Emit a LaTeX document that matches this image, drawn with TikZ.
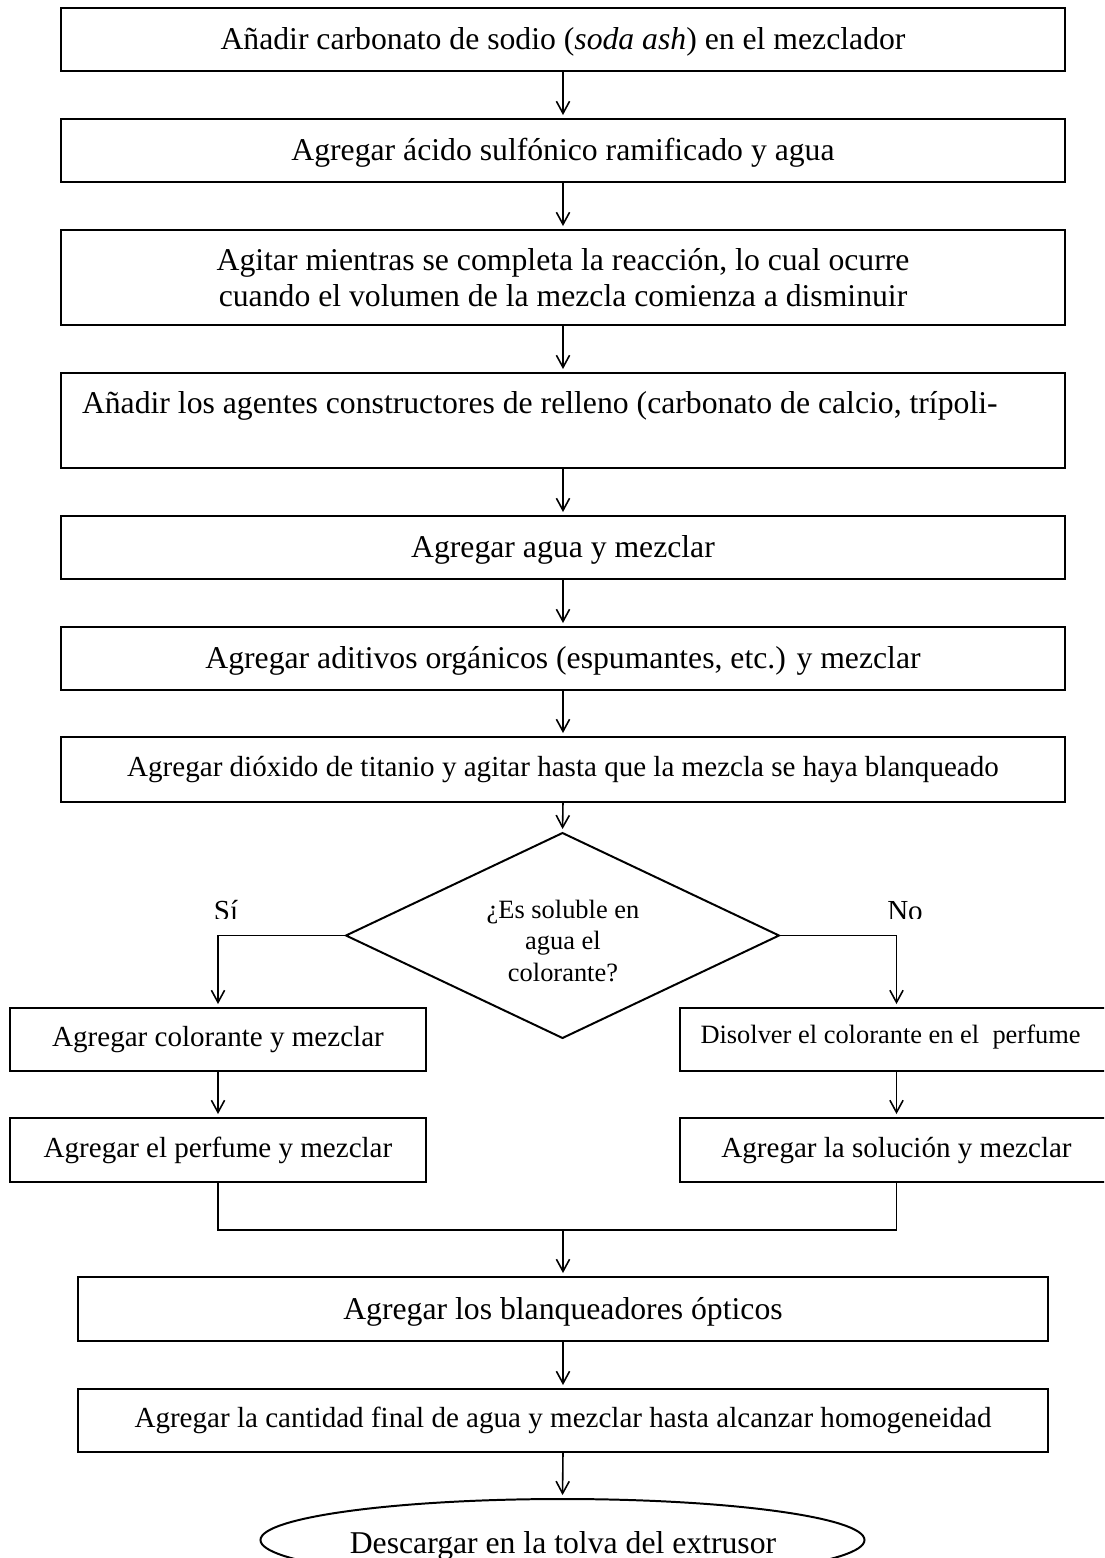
\documentclass[tikz,border=0pt]{standalone}
\usepackage{fontspec}
\setmainfont{Liberation Serif}
\usetikzlibrary{shapes.geometric,arrows.meta}

% one drawing unit = one pixel of the layout grid
\newdimen\pxu
\pxu=0.3785pt
\newcommand\fsTw{\fontsize{12}{13.8}\selectfont}
\newcommand\fsEl{\fontsize{11}{12.65}\selectfont}
\newcommand\fsTe{\fontsize{10}{12}\selectfont}

\tikzset{
  box/.style={draw, rectangle, line width=0.75pt, inner sep=0pt, outer sep=0pt},
  mainbox/.style={box, minimum width=1004*\pxu, minimum height=63*\pxu},
  tallbox/.style={box, minimum width=1004*\pxu, minimum height=95*\pxu},
  lbox/.style={box, minimum width=416*\pxu, minimum height=63*\pxu},
  rbox/.style={box, minimum width=433*\pxu, minimum height=63*\pxu},
  lowbox/.style={box, minimum width=970*\pxu, minimum height=63*\pxu},
  ttw/.style={font=\fsTw, text height=7.6pt, text depth=0pt},
  tel/.style={font=\fsEl, text height=5.6pt, text depth=0pt},
  label/.style={inner sep=0pt, outer sep=0pt},
  conn/.style={line width=0.6pt},
  arr/.style={conn, -{Straight Barb[length=4.6pt,width=5pt]}, shorten >=1.5pt},
}

\begin{document}
\begin{tikzpicture}[x=0.3785pt, y=-0.3785pt]
\useasboundingbox (0,0) rectangle (1104,1558);
\clip (0,0) rectangle (1104,1558);

% main column
\node[mainbox, ttw] (b1) at (563,39.5) {Añadir carbonato de sodio (\textit{soda ash}) en el mezclador};
\node[mainbox, ttw] (b2) at (563,150.5) {Agregar ácido sulfónico ramificado y agua};
\node[tallbox, font=\fsTw, align=center] (b3) at (563,277.5) {Agitar mientras se completa la reacción, lo cual ocurre\\cuando el volumen de la mezcla comienza a disminuir};
\node[tallbox] (b4) at (563,420.5) {};
\node[label, font=\fsTw, anchor=base west] (b4t) at (82,413) {Añadir los agentes constructores de relleno (carbonato de calcio, trípoli-};
\node[mainbox, ttw] (b5) at (563,547.5) {Agregar agua y mezclar};
\node[mainbox, ttw] (b6) at (563,658.5) {Agregar aditivos orgánicos (espumantes, etc.) y mezclar};
\node[box, minimum width=1004*\pxu, minimum height=65*\pxu, tel] (b7) at (563,769.5) {Agregar dióxido de titanio y agitar hasta que la mezcla se haya blanqueado};

% decision
\node[diamond, draw, line width=0.75pt, inner sep=0pt, outer sep=0pt,
      minimum width=433*\pxu, minimum height=205*\pxu] (q) at (562.5,935.5) {};
\node[label, font=\fsTe, align=center] (qt) at (563,941) {¿Es soluble en\\agua el\\colorante?};

\begin{scope}
  \clip (0,0) rectangle (1104,918);
  \node[label, font=\fsEl, anchor=base] (si) at (226,920) {Sí};
  \node[label, font=\fsEl, anchor=base] (no) at (905,920) {No};
\end{scope}

% branches
\node[lbox, tel] (col) at (218,1039.5) {Agregar colorante y mezclar};
\node[lbox, minimum height=64*\pxu, tel] (perf) at (218,1150) {Agregar el perfume y mezclar};
\node[rbox] (dis) at (896.5,1039.5) {};
\node[label, font=\fsTe, anchor=base west] (dist) at (700.5,1043) {Disolver el colorante en el~~perfume};
\node[rbox, minimum height=64*\pxu, tel] (sol) at (896.5,1150) {Agregar la solución y mezclar};

% final steps
\node[lowbox, minimum height=64*\pxu, ttw] (blq) at (563,1309) {Agregar los blanqueadores ópticos};
\node[lowbox, tel] (cant) at (563,1420.5) {Agregar la cantidad final de agua y mezclar hasta alcanzar homogeneidad};
\node[ellipse, draw, line width=0.75pt, inner sep=0pt, outer sep=0pt,
      minimum width=604*\pxu, minimum height=82*\pxu] (fin) at (562.5,1540) {};
\node[label, font=\fsTw, anchor=base] (fint) at (563,1553) {Descargar en la tolva del extrusor};

% connectors
\draw[arr] (b1.south) -- (b2.north);
\draw[arr] (b2.south) -- (b3.north);
\draw[arr] (b3.south) -- (b4.north);
\draw[arr] (b4.south) -- (b5.north);
\draw[arr] (b5.south) -- (b6.north);
\draw[arr] (b6.south) -- (b7.north);
\draw[arr] (b7.south) -- (q.north);
\draw[arr] (q.west) -| (col.north);
\draw[arr] (q.east) -| (dis.north);
\draw[arr] (col.south) -- (perf.north);
\draw[arr] (dis.south) -- (sol.north);
\coordinate (mj) at (563,1230);
\draw[conn] (perf.south) |- (sol.south |- mj) -- (sol.south);
\draw[arr] (mj) -- (blq.north);
\draw[arr] (blq.south) -- (cant.north);
\draw[arr] (cant.south) -- (fin.north);
\end{tikzpicture}
\end{document}
